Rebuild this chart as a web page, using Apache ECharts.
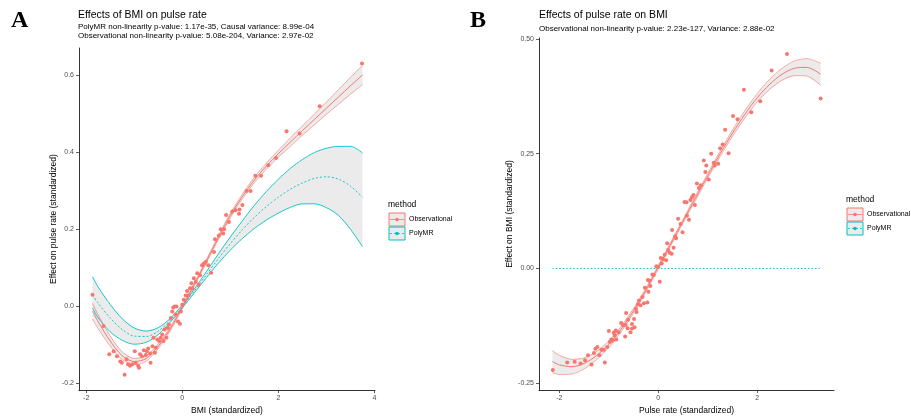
<!DOCTYPE html>
<html>
<head>
<meta charset="utf-8">
<script src="https://cdn.jsdelivr.net/npm/echarts@6/dist/echarts.min.js"></script>
<style>
html, body { margin: 0; padding: 0; background: #fff; }
#main { width: 911px; height: 420px; }
</style>
</head>
<body>
<div id="main"></div>
<script>
// ---- panel A : BMI -> pulse rate ----
var gridXA = [-1.87, -1.75, -1.5, -1.25, -1, -0.75, -0.5, -0.25, 0, 0.25, 0.5, 0.75, 1, 1.25, 1.5, 1.75, 2, 2.25, 2.5, 2.75, 3, 3.25, 3.5, 3.75];
var obsFitA  = [-0.012, -0.040, -0.090, -0.128, -0.143, -0.135, -0.103, -0.058, -0.002, 0.057, 0.117, 0.178, 0.236, 0.285, 0.328, 0.364, 0.396, 0.426, 0.456, 0.485, 0.514, 0.543, 0.572, 0.600];
var obsLowA  = [-0.033, -0.058, -0.103, -0.138, -0.151, -0.142, -0.109, -0.063, -0.006, 0.053, 0.113, 0.173, 0.230, 0.279, 0.321, 0.356, 0.387, 0.415, 0.444, 0.471, 0.498, 0.524, 0.550, 0.575];
var obsHighA = [0.009, -0.022, -0.077, -0.118, -0.135, -0.128, -0.097, -0.053, 0.002, 0.061, 0.121, 0.183, 0.242, 0.291, 0.335, 0.372, 0.405, 0.437, 0.468, 0.499, 0.530, 0.562, 0.594, 0.625];
var mrFitA   = [0.030, 0.008, -0.030, -0.060, -0.077, -0.078, -0.064, -0.036, 0.000, 0.040, 0.082, 0.124, 0.163, 0.199, 0.231, 0.259, 0.283, 0.304, 0.320, 0.332, 0.336, 0.330, 0.312, 0.283];
var mrLowA   = [-0.005, -0.030, -0.066, -0.088, -0.098, -0.093, -0.073, -0.041, -0.004, 0.035, 0.074, 0.112, 0.146, 0.176, 0.202, 0.224, 0.242, 0.257, 0.266, 0.266, 0.256, 0.236, 0.200, 0.155];
var mrHighA  = [0.077, 0.050, 0.005, -0.032, -0.056, -0.064, -0.055, -0.031, 0.004, 0.045, 0.090, 0.136, 0.180, 0.222, 0.262, 0.298, 0.330, 0.358, 0.381, 0.399, 0.410, 0.415, 0.415, 0.398];
var obsPointsA = [
  [-1.87, 0.030], [-1.64, -0.051], [-1.52, -0.124], [-1.43, -0.116], [-1.36, -0.129], [-1.29, -0.143],
  [-1.26, -0.146], [-1.20, -0.177], [-1.16, -0.137], [-1.13, -0.150], [-1.09, -0.154], [-1.04, -0.150],
  [-0.99, -0.116], [-0.97, -0.146], [-0.92, -0.154], [-0.90, -0.159], [-0.88, -0.124], [-0.84, -0.129],
  [-0.80, -0.114], [-0.76, -0.126], [-0.74, -0.116], [-0.71, -0.109], [-0.67, -0.122], [-0.66, -0.146],
  [-0.62, -0.103], [-0.60, -0.081], [-0.57, -0.120], [-0.55, -0.107], [-0.52, -0.086], [-0.48, -0.090],
  [-0.45, -0.081], [-0.42, -0.073], [-0.39, -0.090], [-0.37, -0.060], [-0.33, -0.081], [-0.30, -0.056],
  [-0.28, -0.047], [-0.24, -0.030], [-0.21, -0.013], [-0.19, -0.003], [-0.16, 0.000], [-0.14, -0.021],
  [-0.12, 0.000], [-0.09, -0.039], [-0.05, -0.045], [-0.03, -0.013], [0.00, 0.004], [0.03, 0.017],
  [0.07, 0.028], [0.10, 0.040], [0.12, 0.028], [0.16, 0.047], [0.19, 0.060], [0.21, 0.047],
  [0.24, 0.073], [0.28, 0.064], [0.31, 0.086], [0.34, 0.056], [0.37, 0.081], [0.41, 0.107],
  [0.45, 0.111], [0.49, 0.116], [0.54, 0.107], [0.60, 0.087], [0.66, 0.141], [0.68, 0.174],
  [0.76, 0.184], [0.80, 0.200], [0.85, 0.189], [0.87, 0.200], [0.91, 0.237], [0.97, 0.219],
  [1.04, 0.246], [1.11, 0.249], [1.18, 0.240], [1.19, 0.251], [1.25, 0.263], [1.34, 0.299],
  [1.42, 0.299], [1.52, 0.339], [1.64, 0.339], [1.79, 0.366], [1.95, 0.385], [2.17, 0.454],
  [2.44, 0.448], [2.86, 0.519], [3.74, 0.630]
];

// ---- panel B : pulse rate -> BMI ----
var gridXB = [-2.14, -2, -1.75, -1.5, -1.25, -1, -0.75, -0.5, -0.25, 0, 0.25, 0.5, 0.75, 1, 1.25, 1.5, 1.75, 2, 2.25, 2.5, 2.75, 3, 3.28];
var obsFitB  = [-0.203, -0.210, -0.214, -0.207, -0.190, -0.165, -0.132, -0.092, -0.047, 0.003, 0.053, 0.103, 0.153, 0.202, 0.250, 0.295, 0.336, 0.372, 0.401, 0.423, 0.436, 0.438, 0.423];
var obsLowB  = [-0.227, -0.231, -0.230, -0.219, -0.199, -0.172, -0.138, -0.097, -0.051, -0.001, 0.049, 0.099, 0.148, 0.197, 0.244, 0.288, 0.328, 0.363, 0.390, 0.410, 0.420, 0.419, 0.399];
var obsHighB = [-0.179, -0.189, -0.198, -0.195, -0.181, -0.158, -0.126, -0.087, -0.043, 0.007, 0.057, 0.107, 0.158, 0.207, 0.256, 0.302, 0.344, 0.381, 0.412, 0.436, 0.452, 0.457, 0.447];
var mrXB = [-2.14, 3.28];
var mrFitB = [0, 0];
var obsPointsB = [
  [-2.13, -0.221], [-1.84, -0.205], [-1.69, -0.203], [-1.57, -0.207], [-1.48, -0.200], [-1.42, -0.189],
  [-1.35, -0.209], [-1.30, -0.184], [-1.27, -0.175], [-1.23, -0.171], [-1.19, -0.189], [-1.15, -0.177],
  [-1.10, -0.177], [-1.08, -0.205], [-1.03, -0.171], [-1.00, -0.136], [-0.98, -0.160], [-0.95, -0.155],
  [-0.92, -0.157], [-0.90, -0.140], [-0.88, -0.146], [-0.86, -0.135], [-0.85, -0.155], [-0.80, -0.139],
  [-0.75, -0.119], [-0.71, -0.124], [-0.67, -0.148], [-0.66, -0.123], [-0.65, -0.097], [-0.62, -0.130],
  [-0.61, -0.112], [-0.56, -0.139], [-0.53, -0.131], [-0.53, -0.121], [-0.49, -0.110], [-0.48, -0.128],
  [-0.45, -0.088], [-0.44, -0.095], [-0.41, -0.078], [-0.39, -0.070], [-0.36, -0.080], [-0.32, -0.062],
  [-0.29, -0.076], [-0.27, -0.042], [-0.22, -0.074], [-0.21, -0.025], [-0.20, -0.051], [-0.18, -0.027],
  [-0.16, -0.038], [-0.12, -0.013], [-0.09, -0.014], [-0.04, 0.005], [0.00, 0.003], [0.03, -0.029],
  [0.05, 0.023], [0.07, 0.011], [0.10, 0.020], [0.13, 0.030], [0.16, 0.018], [0.18, 0.055],
  [0.20, 0.040], [0.23, 0.034], [0.27, 0.032], [0.28, 0.084], [0.31, 0.045], [0.34, 0.070],
  [0.36, 0.066], [0.40, 0.108], [0.45, 0.097], [0.49, 0.079], [0.53, 0.145], [0.57, 0.144],
  [0.58, 0.115], [0.62, 0.106], [0.65, 0.149], [0.68, 0.155], [0.71, 0.160], [0.74, 0.138],
  [0.78, 0.185], [0.82, 0.175], [0.86, 0.181], [0.92, 0.235], [0.95, 0.210], [0.97, 0.224],
  [1.02, 0.194], [1.07, 0.250], [1.12, 0.230], [1.14, 0.224], [1.21, 0.228], [1.25, 0.262],
  [1.30, 0.270], [1.35, 0.302], [1.42, 0.251], [1.51, 0.332], [1.60, 0.325], [1.73, 0.389],
  [1.88, 0.340], [2.06, 0.364], [2.29, 0.431], [2.60, 0.467], [3.28, 0.370]
];

var ticksXA = [-2, 0, 2, 4];
var ticksYA = [-0.2, 0, 0.2, 0.4, 0.6];
var ticksXB = [-2, 0, 2];
var ticksYB = [-0.25, 0, 0.25, 0.5];

var RED = '#F8766D';
var CYAN = '#00BFC4';
var FONT = 'Liberation Sans, Arial, sans-serif';

function pairs(xs, ys) {
  return xs.map(function (x, i) { return [x, ys[i]]; });
}

function ribbon(xs, lo, hi, idx) {
  return {
    type: 'custom', xAxisIndex: idx, yAxisIndex: idx, silent: true, z: 1,
    data: [[xs[0], lo[0]]],
    renderItem: function (params, api) {
      var pts = [];
      for (var i = 0; i < xs.length; i++) pts.push(api.coord([xs[i], hi[i]]));
      for (var j = xs.length - 1; j >= 0; j--) pts.push(api.coord([xs[j], lo[j]]));
      return { type: 'polygon', shape: { points: pts }, style: { fill: 'rgba(153,153,153,0.2)' } };
    }
  };
}

function line(xs, ys, idx, color, width, dash) {
  return {
    type: 'line', xAxisIndex: idx, yAxisIndex: idx, data: pairs(xs, ys),
    symbol: 'none', smooth: 0.3, silent: true, z: 2,
    lineStyle: { color: color, width: width, type: dash || 'solid' }
  };
}

function points(data, idx) {
  return {
    type: 'scatter', xAxisIndex: idx, yAxisIndex: idx, data: data,
    symbolSize: 4, itemStyle: { color: RED, opacity: 1 }, z: 3
  };
}

function xAxis(idx, min, max, ticks, name) {
  return {
    type: 'value', gridIndex: idx, min: min, max: max,
    name: name, nameLocation: 'middle', nameGap: 13,
    nameTextStyle: { color: '#000', fontSize: 8.5, fontFamily: FONT },
    axisLine: { show: true, onZero: false, lineStyle: { color: '#000', width: 0.8 } },
    axisTick: { show: true, length: 3, customValues: ticks, lineStyle: { color: '#333', width: 0.8 } },
    axisLabel: { customValues: ticks, margin: 4, color: '#4d4d4d', fontSize: 7, fontFamily: FONT },
    splitLine: { show: false }
  };
}

function yAxis(idx, min, max, ticks, name, digits) {
  return {
    type: 'value', gridIndex: idx, min: min, max: max,
    name: name, nameLocation: 'middle', nameGap: 20,
    nameTextStyle: { color: '#000', fontSize: 8.5, fontFamily: FONT },
    axisLine: { show: true, onZero: false, lineStyle: { color: '#000', width: 0.8 } },
    axisTick: { show: true, length: 3, customValues: ticks, lineStyle: { color: '#333', width: 0.8 } },
    axisLabel: {
      customValues: ticks, margin: 5, color: '#4d4d4d', fontSize: 7, fontFamily: FONT,
      formatter: function (v) { return v.toFixed(digits); }
    },
    splitLine: { show: false }
  };
}

function text(str, x, y, size, opts) {
  opts = opts || {};
  return {
    type: 'text', x: x, y: y, silent: true,
    style: {
      text: str, fill: '#000', verticalAlign: 'middle',
      font: (opts.bold ? 'bold ' : '') + size + 'px ' + (opts.family || FONT)
    }
  };
}

function legend(x, y) {
  var els = [text('method', x, y, 8.5)];
  var keys = [[RED, 'Observational', null], [CYAN, 'PolyMR', [2, 2]]];
  keys.forEach(function (k, i) {
    var ky = y + 8 + i * 14;
    els.push({ type: 'rect', silent: true, shape: { x: x + 1, y: ky, width: 16, height: 13 },
      style: { fill: '#ebebeb', stroke: k[0], lineWidth: 1 } });
    els.push({ type: 'line', silent: true, shape: { x1: x + 2, y1: ky + 6.5, x2: x + 16, y2: ky + 6.5 },
      style: { stroke: k[0], lineWidth: 0.8, lineDash: k[2] } });
    els.push({ type: 'circle', silent: true, shape: { cx: x + 9, cy: ky + 6.5, r: 1.8 },
      style: { fill: k[0] } });
    els.push(text(k[1], x + 21, ky + 6.5, 7));
  });
  return els;
}

var chart = echarts.init(document.getElementById('main'));

var option = {
  animation: false,
  backgroundColor: '#fff',
  grid: [
    { left: 79, top: 48, width: 296, height: 345 },
    { left: 539, top: 38, width: 295, height: 355 }
  ],
  xAxis: [
    xAxis(0, -2.15, 4.01, ticksXA, 'BMI (standardized)'),
    xAxis(1, -2.41, 3.55, ticksXB, 'Pulse rate (standardized)')
  ],
  yAxis: [
    yAxis(0, -0.217, 0.67, ticksYA, 'Effect on pulse rate (standardized)', 1),
    yAxis(1, -0.265, 0.502, ticksYB, 'Effect on BMI (standardized)', 2)
  ],
  series: [
    ribbon(gridXA, mrLowA, mrHighA, 0),
    ribbon(gridXA, obsLowA, obsHighA, 0),
    line(gridXA, mrLowA, 0, CYAN, 0.9),
    line(gridXA, mrHighA, 0, CYAN, 0.9),
    line(gridXA, mrFitA, 0, CYAN, 0.9, [2, 2]),
    line(gridXA, obsLowA, 0, RED, 0.6),
    line(gridXA, obsHighA, 0, RED, 0.6),
    line(gridXA, obsFitA, 0, RED, 1),
    points(obsPointsA, 0),

    ribbon(gridXB, obsLowB, obsHighB, 1),
    line(gridXB, obsLowB, 1, RED, 0.6),
    line(gridXB, obsHighB, 1, RED, 0.6),
    line(gridXB, obsFitB, 1, RED, 1),
    line(mrXB, mrFitB, 1, CYAN, 1, [1.5, 2]),
    points(obsPointsB, 1)
  ],
  graphic: [
    text('A', 11, 21, 24, { bold: true, family: 'Liberation Serif, serif' }),
    text('Effects of BMI on pulse rate', 78, 15, 10.5),
    text('PolyMR non-linearity p-value: 1.17e-35, Causal variance: 8.99e-04', 78, 27, 8),
    text('Observational non-linearity p-value: 5.08e-204, Variance: 2.97e-02', 78, 35.5, 8),
    text('B', 470, 21, 24, { bold: true, family: 'Liberation Serif, serif' }),
    text('Effects of pulse rate on BMI', 539, 15, 10.5),
    text('Observational non-linearity p-value: 2.23e-127, Variance: 2.88e-02', 539, 28.5, 8)
  ].concat(legend(388, 205), legend(846, 200))
};

chart.setOption(option);
</script>
</body>
</html>
